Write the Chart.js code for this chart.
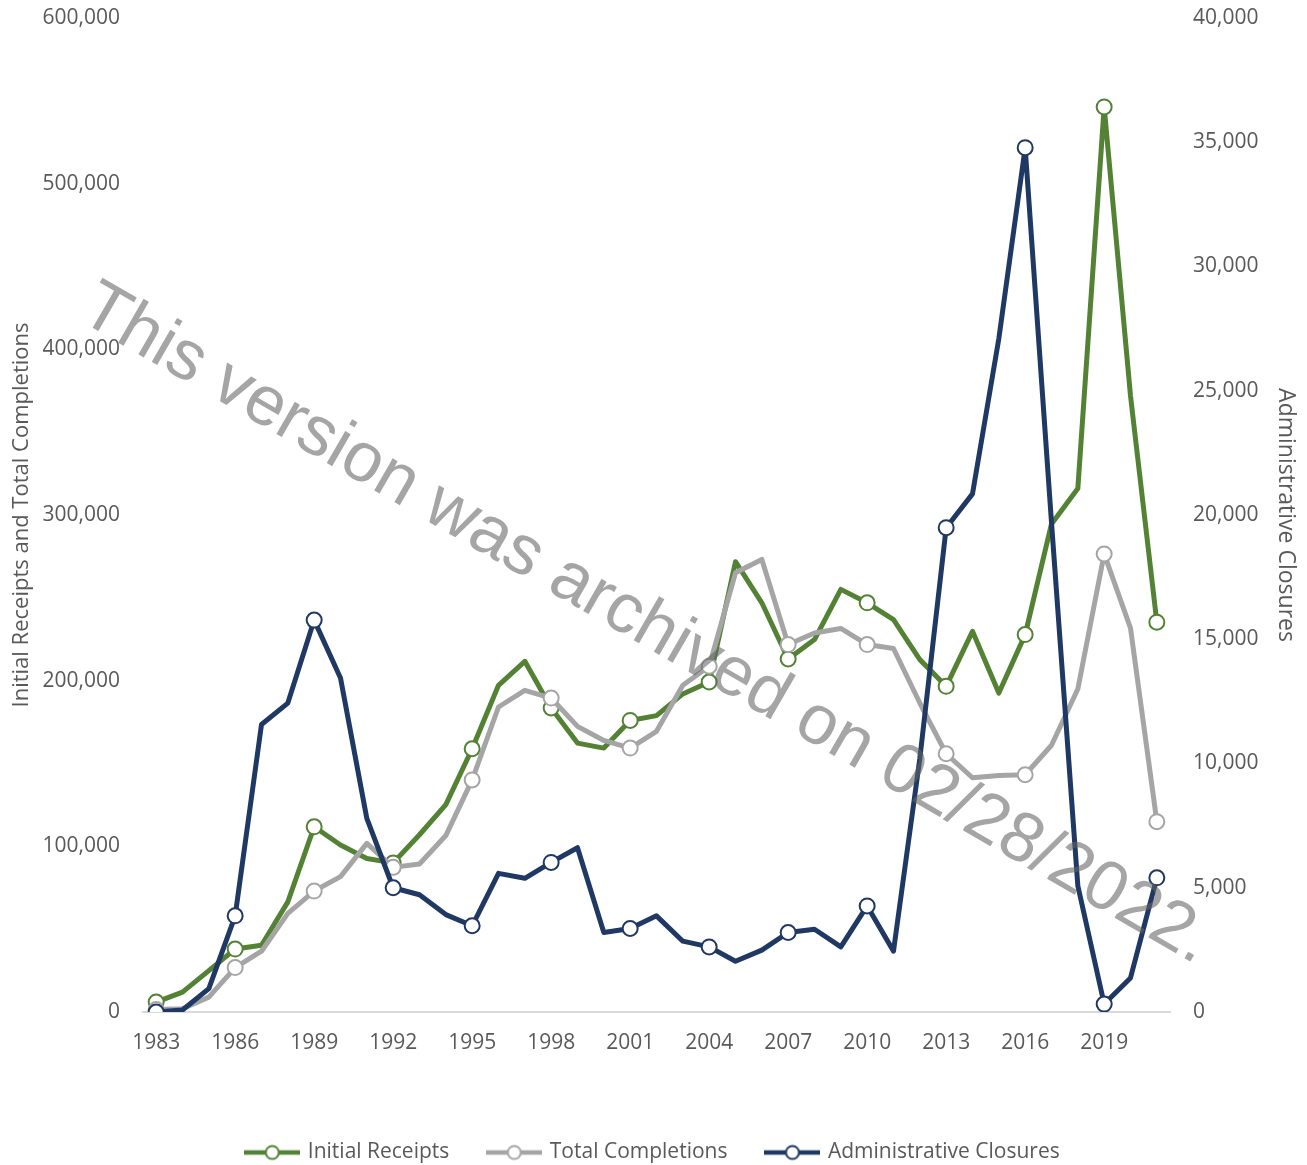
<!DOCTYPE html>
<html>
<head>
<meta charset="utf-8">
<script src="https://cdn.jsdelivr.net/npm/chart.js@4/dist/chart.umd.min.js"></script>
<style>
  html, body { margin: 0; padding: 0; background: #ffffff; }
  #wrap { width: 1307px; height: 1165px; }
</style>
</head>
<body>
<div id="wrap"><canvas id="c" width="1307" height="1165"></canvas></div>
<script>
// ---------- DATA ----------
const years = [1983,1984,1985,1986,1987,1988,1989,1990,1991,1992,1993,1994,1995,1996,1997,1998,1999,2000,2001,2002,2003,2004,2005,2006,2007,2008,2009,2010,2011,2012,2013,2014,2015,2016,2017,2018,2019,2020,2021];

const initialReceipts = [6000,12000,25000,38000,40300,66500,111800,100800,92700,90000,107000,125200,158900,197200,211700,183500,162300,159300,176000,178900,192000,199200,271800,247000,213100,224800,255100,247000,236900,212700,196600,229800,192500,227800,294600,316000,546300,372000,235300];

const totalCompletions = [1500,2000,9000,26800,36700,59500,73000,81700,101800,87300,89300,106500,140100,184100,194200,189500,172400,163900,159300,169400,197200,208700,265100,273200,221800,228800,231500,221800,219400,186500,155900,141400,142700,143200,161000,195000,276500,231700,114900];

const adminClosures = [0,80,940,3870,11570,12430,15770,13440,7790,5000,4720,3920,3470,5580,5380,6020,6610,3200,3360,3870,2850,2620,2040,2490,3200,3330,2620,4270,2450,10200,19490,20850,27100,34780,19700,5080,320,1370,5400];

const seriesNames = ['Initial Receipts', 'Total Completions', 'Administrative Closures'];
const leftTitle = 'Initial Receipts and Total Completions';
const rightTitle = 'Administrative Closures';
const watermarkText = 'This version was archived on 02/28/2022.';

// ---------- STYLE ----------
const COLORS = ['#548235', '#A5A5A5', '#203864'];
const TEXT = '#595959';
const FONT = "'Open Sans', 'Noto Sans', 'DejaVu Sans', sans-serif";
Chart.defaults.font.family = FONT;
Chart.defaults.color = TEXT;

const lastIdx = years.length - 1;
const markerRadius = ctx => (ctx.dataIndex % 3 === 0 || ctx.dataIndex === lastIdx) ? 7.5 : 0;

function legendSymbol(color) {
  const cv = document.createElement('canvas');
  cv.width = 56; cv.height = 18;
  const g = cv.getContext('2d');
  g.strokeStyle = color; g.lineWidth = 4.5;
  g.beginPath(); g.moveTo(0, 9); g.lineTo(56, 9); g.stroke();
  g.beginPath(); g.arc(28, 9, 6.5, 0, Math.PI * 2);
  g.fillStyle = '#ffffff'; g.fill();
  g.lineWidth = 2; g.stroke();
  return cv;
}
const symbols = COLORS.map(legendSymbol);

function makeDataset(i, data, axis, order) {
  return {
    label: seriesNames[i],
    data: data,
    yAxisID: axis,
    borderColor: COLORS[i],
    backgroundColor: '#ffffff',
    borderWidth: 5,
    tension: 0,
    fill: false,
    pointRadius: markerRadius,
    pointHoverRadius: markerRadius,
    pointBackgroundColor: '#ffffff',
    pointBorderColor: COLORS[i],
    pointBorderWidth: 2,
    order: order,
    borderJoinStyle: 'round'
  };
}

const watermark = {
  id: 'watermark',
  afterDraw(chart) {
    const ctx = chart.ctx;
    ctx.save();
    ctx.translate(646, 625);
    ctx.rotate(30 * Math.PI / 180);
    ctx.font = "70px 'Liberation Sans', Arial, sans-serif";
    ctx.fillStyle = 'rgba(100,100,100,0.58)';
    ctx.textAlign = 'center';
    ctx.textBaseline = 'middle';
    ctx.fillText(watermarkText, 0, 0);
    ctx.restore();
  }
};

const fmt = v => Number(v).toLocaleString('en-US');
const fixVertical = w => s => { s.width = w; s.paddingTop = 0; s.paddingBottom = 0; };

new Chart(document.getElementById('c'), {
  type: 'line',
  data: {
    labels: years.map(String),
    datasets: [
      makeDataset(0, initialReceipts, 'y', 2),
      makeDataset(1, totalCompletions, 'y', 1),
      makeDataset(2, adminClosures, 'y1', 0)
    ]
  },
  options: {
    responsive: false,
    animation: false,
    devicePixelRatio: 1,
    layout: { padding: { top: 18, bottom: -8, left: 0, right: 0 } },
    plugins: {
      tooltip: { enabled: false },
      legend: {
        position: 'bottom',
        labels: {
          usePointStyle: true,
          pointStyleWidth: 50,
          padding: 40,
          color: TEXT,
          font: { size: 21 },
          sort: (a, b) => a.datasetIndex - b.datasetIndex,
          generateLabels: chart => {
            const items = Chart.defaults.plugins.legend.labels.generateLabels(chart);
            items.forEach(it => { it.pointStyle = symbols[it.datasetIndex]; });
            return items;
          }
        }
      }
    },
    scales: {
      x: {
        type: 'category',
        offset: true,
        grid: { display: false, drawTicks: false },
        border: { display: true, color: '#D9D9D9', width: 2 },
        ticks: {
          autoSkip: false,
          maxRotation: 0,
          minRotation: 0,
          padding: 18,
          color: TEXT,
          font: { size: 21 },
          callback: function (v, i) { return i % 3 === 0 ? years[i] : ''; }
        },
        afterFit: s => { s.height = 90; }
      },
      y: {
        position: 'left',
        min: 0, max: 600000,
        grid: { display: false, drawTicks: false },
        border: { display: false },
        ticks: { stepSize: 100000, padding: 23, color: TEXT, font: { size: 21 }, callback: fmt },
        title: { display: true, text: leftTitle, color: TEXT, font: { size: 22 }, padding: { top: 9, bottom: 0 } },
        afterFit: fixVertical(143)
      },
      y1: {
        position: 'right',
        min: 0, max: 40000,
        grid: { display: false, drawTicks: false },
        border: { display: false },
        ticks: { stepSize: 5000, padding: 23, color: TEXT, font: { size: 21 }, callback: fmt },
        title: { display: true, text: rightTitle, color: TEXT, font: { size: 23 }, padding: { top: 8, bottom: 0 } },
        afterFit: fixVertical(137)
      }
    }
  },
  plugins: [watermark]
});
</script>
</body>
</html>
